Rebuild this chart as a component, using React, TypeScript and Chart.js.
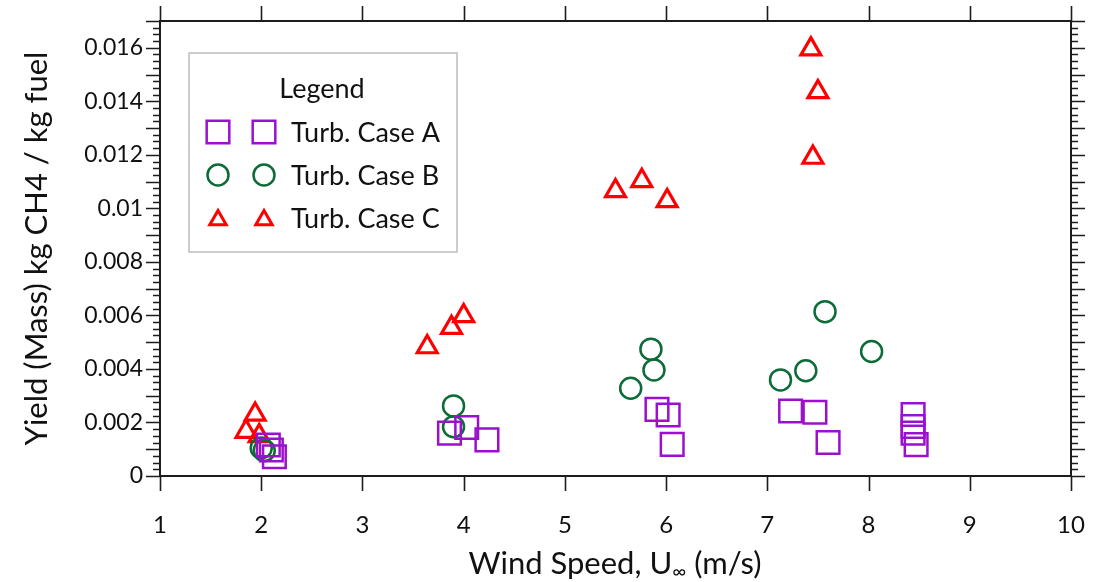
import React, { useEffect, useRef } from 'react';
import { Chart, registerables } from 'chart.js';

Chart.register(...registerables);

// ---------- data ----------
const caseAX = [2.07, 2.10, 2.13, 3.86, 4.03, 4.23, 5.91, 6.02, 6.06, 7.23, 7.47, 7.60, 8.44, 8.44, 8.44, 8.47];
const caseAY = [0.00116, 0.00097, 0.00072, 0.0016, 0.00181, 0.00135, 0.00249, 0.00228, 0.00118, 0.00243, 0.00238, 0.00125, 0.0023, 0.00185, 0.0016, 0.00117];

const caseBX = [2.0, 2.03, 3.9, 3.9, 5.85, 5.88, 5.65, 7.57, 8.03, 7.38, 7.13];
const caseBY = [0.00105, 0.00095, 0.00262, 0.00184, 0.00474, 0.00396, 0.00328, 0.00614, 0.00465, 0.00393, 0.00359];

const caseCX = [1.94, 1.85, 1.98, 4.0, 3.88, 3.64, 5.5, 5.76, 6.01, 7.43, 7.5, 7.45];
const caseCY = [0.0023, 0.00166, 0.0015, 0.00598, 0.00554, 0.00482, 0.01065, 0.01103, 0.01028, 0.01595, 0.01435, 0.0119];

const seriesNames = ['Turb. Case A', 'Turb. Case B', 'Turb. Case C'];
const legendTitle = 'Legend';

const xTickValues = [1, 2, 3, 4, 5, 6, 7, 8, 9, 10];
const yTickValues = [0, 0.002, 0.004, 0.006, 0.008, 0.01, 0.012, 0.014, 0.016];
const yTickLabels = ['0', '0.002', '0.004', '0.006', '0.008', '0.01', '0.012', '0.014', '0.016'];

const xTitleMain = 'Wind Speed, U';
const xTitleSub = '∞';
const xTitleEnd = ' (m/s)';
const yTitle = 'Yield (Mass) kg CH4 / kg fuel';

// ---------- styles ----------
const PURPLE = '#9b10cf';
const GREEN = '#0c6b37';
const RED = '#ff0000';
const FONT = 'Lato, "Noto Sans", sans-serif';
const AXIS = '#1c1c1c';

function pts(xs: number[], ys: number[]) {
  return xs.map((x, i) => ({ x, y: ys[i] }));
}

function drawMarker(ctx: CanvasRenderingContext2D, style: string, x: number, y: number, r: number, color: string, lw: number) {
  ctx.save();
  ctx.strokeStyle = color;
  ctx.lineWidth = lw;
  ctx.beginPath();
  if (style === 'rect') {
    const s = Math.SQRT1_2 * r;
    ctx.rect(x - s, y - s, 2 * s, 2 * s);
  } else if (style === 'circle') {
    ctx.arc(x, y, r, 0, Math.PI * 2);
  } else {
    let rad = 0;
    ctx.moveTo(x + Math.sin(rad) * r, y - Math.cos(rad) * r);
    rad += (2 * Math.PI) / 3;
    ctx.lineTo(x + Math.sin(rad) * r, y - Math.cos(rad) * r);
    rad += (2 * Math.PI) / 3;
    ctx.lineTo(x + Math.sin(rad) * r, y - Math.cos(rad) * r);
    ctx.closePath();
  }
  ctx.stroke();
  ctx.restore();
}

const framePlugin = {
  id: 'frameTicks',
  afterDraw(chart: any) {
    const { ctx, chartArea, scales } = chart;
    const { left, right, top, bottom } = chartArea;
    const x = scales.x;
    const y = scales.y;
    ctx.save();
    ctx.strokeStyle = AXIS;
    ctx.lineWidth = 2;
    ctx.strokeRect(left, top, right - left, bottom - top);
    ctx.lineWidth = 1.6;
    ctx.beginPath();
    for (const v of xTickValues) {
      const px = Math.round(x.getPixelForValue(v)) + 0.5;
      ctx.moveTo(px, bottom);
      ctx.lineTo(px, bottom + 15);
      ctx.moveTo(px, top);
      ctx.lineTo(px, top - 15);
    }
    const minorStep = 0.00025;
    const n = Math.round(y.max / minorStep);
    for (let i = 0; i <= n; i++) {
      const v = i * minorStep;
      const py = Math.round(y.getPixelForValue(v)) + 0.5;
      const len = i % 4 === 0 ? 14 : 7;
      ctx.moveTo(left - len, py);
      ctx.lineTo(left, py);
      ctx.moveTo(right, py);
      ctx.lineTo(right + len, py);
    }
    ctx.stroke();

    // x title with subscript
    ctx.fillStyle = '#111';
    ctx.textBaseline = 'alphabetic';
    const big = '31px ' + FONT;
    const small = '19px ' + FONT;
    ctx.font = big;
    const w1 = ctx.measureText(xTitleMain).width;
    const w3 = ctx.measureText(xTitleEnd).width;
    ctx.font = small;
    const w2 = ctx.measureText(xTitleSub).width;
    const total = w1 + w2 + w3;
    const cx = 615;
    let sx = cx - total / 2;
    const base = 574;
    ctx.font = big;
    ctx.textAlign = 'left';
    ctx.fillText(xTitleMain, sx, base);
    sx += w1;
    ctx.font = small;
    ctx.fillText(xTitleSub, sx, base + 4);
    sx += w2;
    ctx.font = big;
    ctx.fillText(xTitleEnd, sx, base);

    // legend
    const bx = 189, by = 53, bw = 268, bh = 199;
    ctx.fillStyle = '#fff';
    ctx.fillRect(bx, by, bw, bh);
    ctx.strokeStyle = '#bdbdbd';
    ctx.lineWidth = 1.5;
    ctx.strokeRect(bx, by, bw, bh);
    ctx.fillStyle = '#111';
    ctx.font = '27px ' + FONT;
    ctx.textAlign = 'center';
    ctx.textBaseline = 'middle';
    ctx.fillText(legendTitle, 322, 89);
    const rows = [132, 175, 218];
    const styles = [
      { s: 'rect', r: 16, c: PURPLE, lw: 2.5, dy: 0 },
      { s: 'circle', r: 10.5, c: GREEN, lw: 2.5, dy: 0 },
      { s: 'triangle', r: 9.5, c: RED, lw: 3, dy: 2 },
    ];
    ctx.textAlign = 'left';
    seriesNames.forEach((name, i) => {
      const st = styles[i];
      drawMarker(ctx, st.s, 218, rows[i] + st.dy, st.r, st.c, st.lw);
      drawMarker(ctx, st.s, 264, rows[i] + st.dy, st.r, st.c, st.lw);
      ctx.fillStyle = '#111';
      ctx.font = '27px ' + FONT;
      ctx.fillText(name, 291, rows[i] + 1);
    });
    ctx.restore();
  },
};

export default function App() {
  const ref = useRef<HTMLCanvasElement | null>(null);
  useEffect(() => {
    if (!ref.current) return;
    const chart = new Chart(ref.current, {
      type: 'scatter',
      data: {
        datasets: [
          {
            label: seriesNames[0],
            data: pts(caseAX, caseAY),
            pointStyle: 'rect',
            pointRadius: 16,
            borderColor: PURPLE,
            backgroundColor: 'rgba(0,0,0,0)',
            borderWidth: 2.5,
          },
          {
            label: seriesNames[1],
            data: pts(caseBX, caseBY),
            pointStyle: 'circle',
            pointRadius: 10.5,
            borderColor: GREEN,
            backgroundColor: 'rgba(0,0,0,0)',
            borderWidth: 2.5,
          },
          {
            label: seriesNames[2],
            data: pts(caseCX, caseCY),
            pointStyle: 'triangle',
            pointRadius: 11.5,
            borderColor: RED,
            backgroundColor: 'rgba(0,0,0,0)',
            borderWidth: 3.2,
          },
        ],
      },
      options: {
        responsive: false,
        animation: false,
        events: [],
        layout: { padding: { left: 0, right: 25, top: 21, bottom: 0 } },
        plugins: { legend: { display: false }, tooltip: { enabled: false } },
        scales: {
          x: {
            type: 'linear',
            min: 1,
            max: 10,
            border: { display: false },
            grid: { display: false, drawTicks: false },
            afterBuildTicks: (s: any) => {
              s.ticks = xTickValues.map((v) => ({ value: v }));
            },
            afterFit: (s: any) => {
              s.height = 106;
              s.paddingLeft = 0;
              s.paddingRight = 0;
            },
            ticks: {
              autoSkip: false,
              maxRotation: 0,
              padding: 35,
              color: '#111',
              font: { family: FONT, size: 24 },
              callback: (v: any) => String(v),
            },
          },
          y: {
            type: 'linear',
            min: 0,
            max: 0.017,
            border: { display: false },
            grid: { display: false, drawTicks: false },
            afterBuildTicks: (s: any) => {
              s.ticks = yTickValues.map((v) => ({ value: v }));
            },
            afterFit: (s: any) => {
              s.width = 160;
              s.paddingTop = 0;
              s.paddingBottom = 0;
            },
            title: {
              display: true,
              text: yTitle,
              color: '#111',
              font: { family: FONT, size: 31 },
              padding: { top: 18, bottom: 0 },
            },
            ticks: {
              autoSkip: false,
              padding: 17,
              color: '#111',
              font: { family: FONT, size: 23 },
              callback: (v: any) => {
                const i = yTickValues.findIndex((t) => Math.abs(t - v) < 1e-9);
                return i >= 0 ? yTickLabels[i] : '';
              },
            },
          },
        },
      },
      plugins: [framePlugin],
    });
    return () => chart.destroy();
  }, []);
  return (
    <div style={{ position: 'fixed', left: 0, top: 0, width: 1096, height: 582, background: '#fff' }}>
      <canvas ref={ref} width={1096} height={582} style={{ display: 'block' }} />
    </div>
  );
}
